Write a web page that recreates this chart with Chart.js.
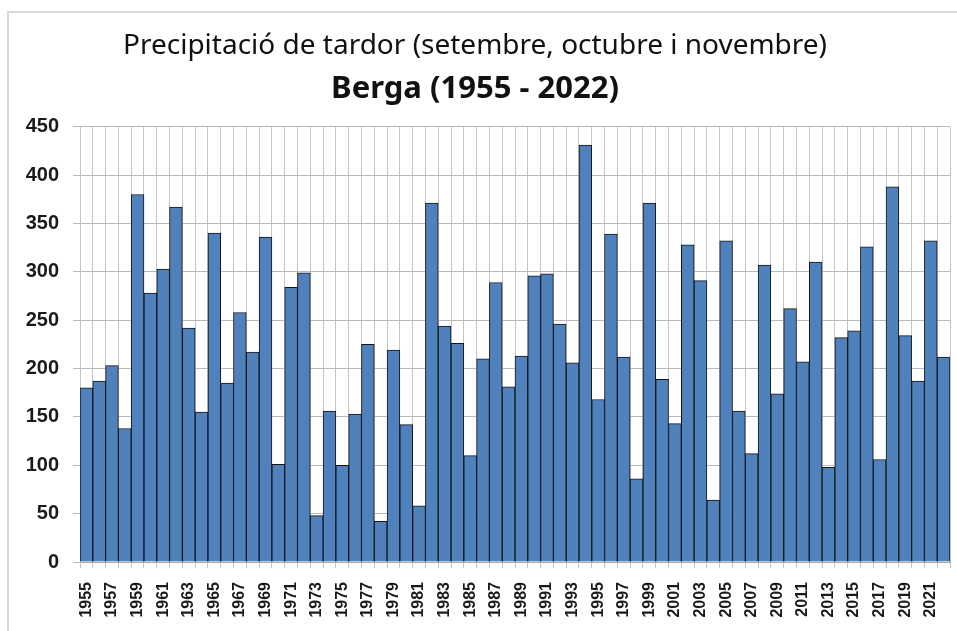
<!DOCTYPE html>
<html>
<head>
<meta charset="utf-8">
<script src="https://cdn.jsdelivr.net/npm/chart.js"></script>
<style>
  body { margin: 0; background: #fff; overflow: hidden; }
  #wrap { position: relative; width: 957px; height: 631px; overflow: hidden; }
  .frame { position: absolute; left: 7px; top: 11px; width: 1000px; height: 700px; border: 2px solid #d9d9d9; }
  #chart { position: absolute; left: 0; top: 0; }
</style>
</head>
<body>
<div id="wrap">
  <div class="frame"></div>
  <canvas id="chart" width="957" height="631"></canvas>
</div>
<script>
// Autumn precipitation (mm), Berga 1955-2022
const years = [
  '1955', '1956', '1957', '1958', '1959', '1960', '1961', '1962', '1963', '1964',
  '1965', '1966', '1967', '1968', '1969', '1970', '1971', '1972', '1973', '1974',
  '1975', '1976', '1977', '1978', '1979', '1980', '1981', '1982', '1983', '1984',
  '1985', '1986', '1987', '1988', '1989', '1990', '1991', '1992', '1993', '1994',
  '1995', '1996', '1997', '1998', '1999', '2000', '2001', '2002', '2003', '2004',
  '2005', '2006', '2007', '2008', '2009', '2010', '2011', '2012', '2013', '2014',
  '2015', '2016', '2017', '2018', '2019', '2020', '2021', '2022'
];
const precipitation = [
  180, 187, 203, 138, 380, 278, 303, 367, 242, 155,
  340, 185, 258, 217, 336, 101, 284, 299, 48, 156,
  100, 153, 225, 42, 219, 142, 58, 371, 244, 226,
  110, 210, 289, 181, 213, 296, 298, 246, 206, 431,
  168, 339, 212, 86, 371, 189, 143, 328, 291, 64,
  332, 156, 112, 307, 174, 262, 207, 310, 98, 232,
  239, 326, 106, 388, 234, 187, 332, 212
];
// only every other year is labelled on the axis
const shownYears = [
  '1955', '1957', '1959', '1961', '1963', '1965', '1967', '1969', '1971', '1973',
  '1975', '1977', '1979', '1981', '1983', '1985', '1987', '1989', '1991', '1993',
  '1995', '1997', '1999', '2001', '2003', '2005', '2007', '2009', '2011', '2013',
  '2015', '2017', '2019', '2021'
];
const yTicks = [0, 50, 100, 150, 200, 250, 300, 350, 400, 450];

const titleText = 'Precipitació de tardor (setembre, octubre i novembre)';
const subtitleText = 'Berga (1955 - 2022)';

const ctx = document.getElementById('chart').getContext('2d');
new Chart(ctx, {
  type: 'bar',
  data: {
    labels: years,
    datasets: [{
      data: precipitation,
      backgroundColor: '#4f81bd',
      borderColor: '#141414',
      borderWidth: 1,
      barPercentage: 1,
      categoryPercentage: 1
    }]
  },
  options: {
    responsive: false,
    animation: false,
    layout: { padding: { left: 0, right: 7, top: 0, bottom: 0 } },
    plugins: {
      legend: { display: false },
      tooltip: { enabled: false },
      title: {
        display: true,
        text: titleText,
        color: '#111',
        font: { family: 'Noto Sans', size: 28, weight: 'normal', lineHeight: 1.2 },
        padding: { top: 29, bottom: 4 }
      },
      subtitle: {
        display: true,
        text: subtitleText,
        color: '#111',
        font: { family: 'Noto Sans', size: 31, weight: 'bold', lineHeight: 1.2 },
        padding: { top: 4, bottom: 19 }
      }
    },
    scales: {
      x: {
        grid: { color: '#c4c4c4', lineWidth: 1, offset: true, tickLength: 6, tickColor: '#c4c4c4' },
        border: { display: true, color: '#a6a6a6' },
        ticks: {
          autoSkip: false,
          maxRotation: 90,
          minRotation: 90,
          padding: 14,
          color: '#1a1a1a',
          font: { family: 'Liberation Sans', size: 16, weight: 'bold' },
          callback: function(value, index) {
            const lab = this.getLabelForValue(value);
            return shownYears.includes(lab) ? lab : '';
          }
        },
        afterFit: function(scale) {
          scale.height = 69;
          scale.paddingLeft = 0;
          scale.paddingRight = 0;
        }
      },
      y: {
        min: 0,
        max: 450,
        afterBuildTicks: function(scale) {
          scale.ticks = yTicks.map(v => ({ value: v }));
        },
        grid: { color: '#b8b8b8', lineWidth: 1, tickLength: 7, tickColor: '#b8b8b8' },
        border: { display: true, color: '#c4c4c4' },
        ticks: {
          padding: 14,
          color: '#1a1a1a',
          font: { family: 'Liberation Sans', size: 20, weight: 'bold' }
        },
        afterFit: function(scale) { scale.width = 80; }
      }
    }
  }
});
</script>
</body>
</html>
